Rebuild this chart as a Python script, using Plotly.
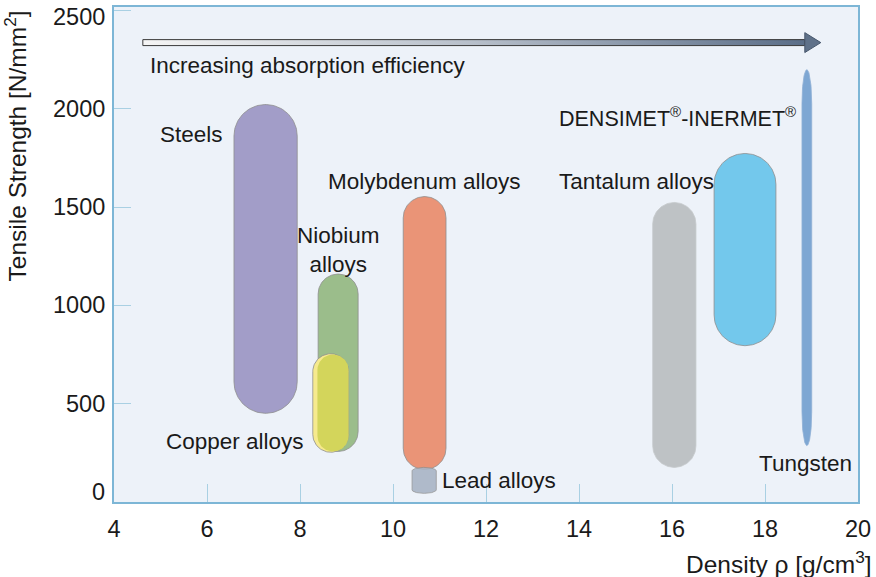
import numpy as np
import plotly.graph_objects as go

# ---------------- data ----------------
materials = ["Steels", "Niobium alloys", "Copper alloys", "Molybdenum alloys",
             "Lead alloys", "Tantalum alloys", "DENSIMET®-INERMET®", "Tungsten"]
density_center = [7.26, 8.82, 8.66, 10.68, 10.67, 16.05, 17.57, 18.90]
density_width = [1.36, 0.86, 0.77, 0.92, 0.52, 0.93, 1.33, 0.21]
strength_min = [451, 257, 253, 165, 44, 176, 795, 287]
strength_max = [2021, 1159, 754, 1553, 176, 1523, 1772, 2198]

x_ticks = [4, 6, 8, 10, 12, 14, 16, 18, 20]
y_ticks = [0, 500, 1000, 1500, 2000, 2500]

arrow_density = [4.62, 19.2]
arrow_strength = 2336

# ---------------- style ----------------
W, H = 876, 577
ML, MR, MT, MB = 114, 18, 5, 75
X_RANGE = [4, 20]
Y_RANGE = [0, 2517]
PXX = (W - ML - MR) / (X_RANGE[1] - X_RANGE[0])
PXY = (H - MT - MB) / (Y_RANGE[1] - Y_RANGE[0])

fills = {
    "Steels": "#a29dc8",
    "Niobium alloys": "#9bbd8b",
    "Copper alloys": "#f6ea8e",
    "Molybdenum alloys": "#ea9477",
    "Lead alloys": "#a9b5c6",
    "Tantalum alloys": "#bec2c5",
    "DENSIMET®-INERMET®": "#73c8ec",
    "Tungsten": "#7ea7d3",
}
outline = {
    "Tantalum alloys": "#c6cacd",
    "Tungsten": "#8fb0d6",
}
cap_px = {"Lead alloys": 3.5, "Tungsten": 34}
draw_order = ["Steels", "Niobium alloys", "Copper alloys", "Molybdenum alloys",
              "Lead alloys", "Tantalum alloys", "DENSIMET®-INERMET®", "Tungsten"]

FONT = "Liberation Sans"
TXT = "#1a1a1a"
LABEL_SIZE = 22.5
TICK_SIZE = 23.5
TITLE_SIZE = 24.5


def capsule(xc, w, y0, y1, cap=None):
    rx = w / 2.0
    rpx = cap if cap is not None else rx * PXX
    ry = rpx / PXY
    t_top = np.linspace(0, np.pi, 60)
    t_bot = np.linspace(np.pi, 2 * np.pi, 60)
    xs = np.concatenate([xc + rx * np.cos(t_top), xc + rx * np.cos(t_bot)])
    ys = np.concatenate([y1 - ry + ry * np.sin(t_top), y0 + ry + ry * np.sin(t_bot)])
    xs = np.append(xs, xs[0])
    ys = np.append(ys, ys[0])
    return xs, ys


fig = go.Figure()

for name in draw_order:
    i = materials.index(name)
    xs, ys = capsule(density_center[i], density_width[i], strength_min[i],
                     strength_max[i], cap_px.get(name))
    fig.add_trace(go.Scatter(
        x=xs, y=ys, mode="lines", fill="toself",
        fillcolor=fills[name],
        line=dict(color=outline.get(name, "#8e8e8e"), width=0.8),
        opacity=0.9 if name == "Lead alloys" else 1.0,
        hoverinfo="skip", showlegend=False))
    if name == "Copper alloys":
        # darker body with light highlight strip on the left
        xs2, ys2 = capsule(density_center[i] + 0.05, density_width[i] - 0.1,
                           strength_min[i] + 4, strength_max[i] - 4)
        fig.add_trace(go.Scatter(
            x=xs2, y=ys2, mode="lines", fill="toself", fillcolor="#d3d55b",
            line=dict(color="rgba(0,0,0,0)", width=0),
            hoverinfo="skip", showlegend=False))

# gradient arrow
half = 3 / PXY
head_half = 10 / PXY
shaft_end = arrow_density[1] - 16 / PXX
fig.add_trace(go.Scatter(
    x=[arrow_density[0], shaft_end, shaft_end, arrow_density[0], arrow_density[0]],
    y=[arrow_strength - half, arrow_strength - half, arrow_strength + half,
       arrow_strength + half, arrow_strength - half],
    mode="lines", fill="toself",
    fillgradient=dict(type="horizontal",
                      colorscale=[[0, "#f5f5f5"], [0.5, "#b7bfca"], [1, "#5b6e88"]]),
    line=dict(color="#3a3a3a", width=1),
    hoverinfo="skip", showlegend=False))
fig.add_trace(go.Scatter(
    x=[shaft_end, arrow_density[1], shaft_end, shaft_end],
    y=[arrow_strength - head_half, arrow_strength, arrow_strength + head_half,
       arrow_strength - head_half],
    mode="lines", fill="toself", fillcolor="#5f7189",
    line=dict(color="#46566b", width=1),
    hoverinfo="skip", showlegend=False))


def dx(px):
    return X_RANGE[0] + (px - ML) / PXX


def dy(py):
    return (H - MB - py) / PXY


labels = [
    ("Steels", dx(225), dy(133), "right", LABEL_SIZE),
    ("Niobium<br>alloys", dx(338), dy(249), "center", LABEL_SIZE),
    ("Molybdenum alloys", dx(424), dy(180), "center", LABEL_SIZE),
    ("Copper alloys", dx(235), dy(441), "center", LABEL_SIZE),
    ("Lead alloys", dx(440), dy(480), "left", LABEL_SIZE),
    ("Tantalum alloys", dx(557), dy(180), "left", LABEL_SIZE),
    ("DENSIMET<sup>®</sup>-INERMET<sup>®</sup>", dx(557), dy(115), "left", 21.5),
    ("Tungsten", dx(757), dy(463), "left", LABEL_SIZE),
    ("Increasing absorption efficiency", dx(148), dy(64), "left", LABEL_SIZE),
]
for text, x, y, anchor, size in labels:
    fig.add_annotation(x=x, y=y, text=text, xanchor=anchor, yanchor="middle",
                       showarrow=False, align="center",
                       font=dict(family=FONT, size=size, color=TXT))

# y tick labels
for v in y_ticks:
    shift = 10 if v == 0 else (-7 if v == 2500 else 0)
    fig.add_annotation(xref="paper", x=0, y=v, xshift=-7, yshift=shift,
                       text=str(v), xanchor="right", yanchor="middle",
                       showarrow=False,
                       font=dict(family=FONT, size=TICK_SIZE, color=TXT))

# axis titles
fig.add_annotation(xref="paper", yref="paper", x=(15 - ML) / (W - ML - MR),
                   y=(H - MB - 145) / (H - MT - MB),
                   text="Tensile Strength [N/mm<sup>2</sup>]", textangle=-90,
                   xanchor="center", yanchor="middle", showarrow=False,
                   font=dict(family=FONT, size=TITLE_SIZE, color=TXT))
fig.add_annotation(xref="paper", yref="paper", x=(874 - ML) / (W - ML - MR),
                   y=(H - MB - 563) / (H - MT - MB),
                   text="Density ρ [g/cm<sup>3</sup>]",
                   xanchor="right", yanchor="middle", showarrow=False,
                   font=dict(family=FONT, size=TITLE_SIZE, color=TXT))

fig.update_layout(
    width=W, height=H,
    margin=dict(l=ML, r=MR, t=MT, b=MB),
    paper_bgcolor="white", plot_bgcolor="#edf2f9",
    showlegend=False,
    xaxis=dict(range=X_RANGE, tickvals=x_ticks, ticks="inside", ticklen=18,
               tickcolor="#a9d0e3", tickwidth=1, showgrid=False, zeroline=False,
               showline=True, linecolor="#7db6d6", linewidth=1.5, mirror=True,
               ticklabelstandoff=5,
               tickfont=dict(family=FONT, size=TICK_SIZE, color=TXT)),
    yaxis=dict(range=Y_RANGE, tickvals=y_ticks, ticks="inside", ticklen=17,
               tickcolor="#a9d0e3", tickwidth=1, showgrid=False, zeroline=False,
               showline=True, linecolor="#7db6d6", linewidth=1.5, mirror=True,
               showticklabels=False),
)

fig.write_html("out.html", config={"displayModeBar": False},
               post_script="document.body.style.margin='0';document.body.style.overflow='hidden';")
